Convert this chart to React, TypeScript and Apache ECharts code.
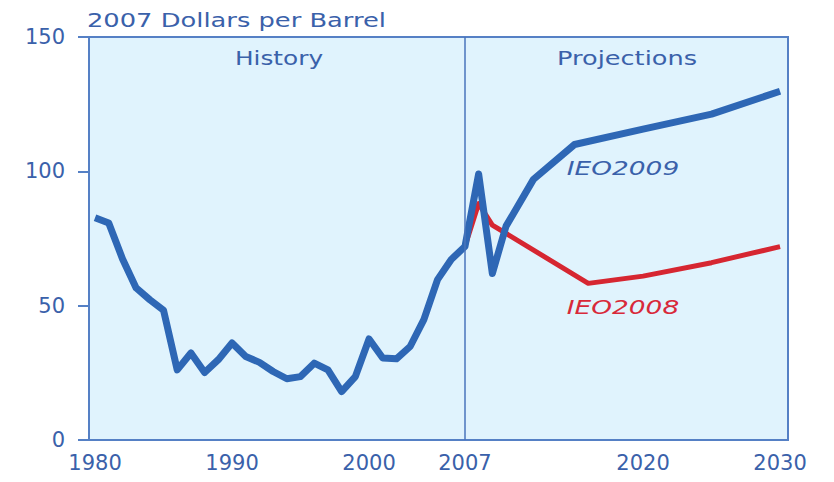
import React, { useEffect, useRef } from "react";
import * as echarts from "echarts";

const historyYears = [1980, 1981, 1982, 1983, 1984, 1985, 1986, 1987, 1988, 1989, 1990, 1991, 1992, 1993, 1994, 1995, 1996, 1997, 1998, 1999, 2000, 2001, 2002, 2003, 2004, 2005, 2006, 2007];
const historyValues = [82.7, 80.8, 67.5, 56.6, 52.2, 48.3, 26.1, 32.4, 25.1, 29.9, 36.1, 31.1, 28.9, 25.5, 22.8, 23.6, 28.6, 26.1, 18.0, 23.6, 37.6, 30.5, 30.2, 34.8, 44.8, 59.7, 67.2, 72.0];

const ieo2009Years = [2007, 2008, 2009, 2010, 2012, 2015, 2020, 2025, 2030];
const ieo2009Values = [72.0, 99.0, 62.0, 79.6, 97.0, 110.0, 115.7, 121.3, 129.8];

const ieo2008Years = [2007, 2008, 2009, 2016, 2020, 2025, 2030];
const ieo2008Values = [72.0, 88.0, 80.0, 58.3, 61.0, 66.0, 72.0];

const xTickLabels = [1980, 1990, 2000, 2007, 2020, 2030];
const yTicks = [0, 50, 100, 150];

const BLUE_LINE = "#2e67b5";
const RED_LINE = "#d62631";
const TEXT_BLUE = "#3a61aa";
const FRAME = "#5580c5";
const FONT = "DejaVu Sans";

export default function App() {
  const ref = useRef<HTMLDivElement>(null);

  useEffect(() => {
    if (!ref.current) return;
    const chart = echarts.init(ref.current, null, { renderer: "svg" });

    const blueData = [
      ...historyYears.map((y, i) => [y, historyValues[i]]),
      ...ieo2009Years.slice(1).map((y, i) => [y, ieo2009Values[i + 1]]),
    ];
    const redData = ieo2008Years.map((y, i) => [y, ieo2008Values[i]]);

    const textStyleBase = {
      fontFamily: FONT,
      fontSize: 20,
      fill: TEXT_BLUE,
      textAlign: "center",
      textVerticalAlign: "middle",
    };

    chart.setOption({
      animation: false,
      grid: {
        left: 89,
        right: 46,
        top: 37,
        bottom: 42,
        show: true,
        backgroundColor: "#e0f3fd",
        borderColor: FRAME,
        borderWidth: 2,
      },
      xAxis: {
        type: "value",
        min: 1979.56,
        max: 2030.58,
        axisLine: { show: true, lineStyle: { color: FRAME, width: 2 } },
        axisTick: { show: false },
        splitLine: { show: false },
        axisLabel: {
          customValues: xTickLabels,
          formatter: (v: number) => String(v),
          color: TEXT_BLUE,
          fontFamily: FONT,
          fontSize: 21,
          margin: 12,
        },
      },
      yAxis: {
        type: "value",
        min: yTicks[0],
        max: yTicks[yTicks.length - 1],
        interval: 50,
        axisLine: { show: true, lineStyle: { color: FRAME, width: 2 } },
        axisTick: { show: true, length: 11, lineStyle: { color: FRAME, width: 2 } },
        splitLine: { show: false },
        axisLabel: {
          color: TEXT_BLUE,
          fontFamily: FONT,
          fontSize: 21,
          margin: 24,
        },
      },
      series: [
        {
          name: "IEO2008",
          type: "line",
          data: redData,
          showSymbol: false,
          symbol: "none",
          lineStyle: { color: RED_LINE, width: 5, join: "round" },
          z: 2,
        },
        {
          name: "IEO2009",
          type: "line",
          data: blueData,
          showSymbol: false,
          symbol: "none",
          lineStyle: { color: BLUE_LINE, width: 7, join: "round" },
          z: 3,
          markLine: {
            silent: true,
            symbol: ["none", "none"],
            label: { show: false },
            lineStyle: { color: "#4a74bb", width: 1.5, type: "solid" },
            data: [{ xAxis: 2007 }],
          },
        },
      ],
      graphic: [
        {
          type: "text",
          x: 87,
          y: 20,
          scaleX: 1.32,
          style: { ...textStyleBase, fontSize: 19.5, text: "2007 Dollars per Barrel", textAlign: "left" },
        },
        {
          type: "text",
          x: 279,
          y: 58,
          scaleX: 1.24,
          style: { ...textStyleBase, text: "History" },
        },
        {
          type: "text",
          x: 627,
          y: 58,
          scaleX: 1.28,
          style: { ...textStyleBase, text: "Projections" },
        },
        {
          type: "text",
          x: 623,
          y: 168,
          scaleX: 1.32,
          style: { ...textStyleBase, text: "IEO2009", fontStyle: "italic" },
        },
        {
          type: "text",
          x: 623,
          y: 307,
          scaleX: 1.32,
          style: { ...textStyleBase, text: "IEO2008", fontStyle: "italic", fill: "#d8293a" },
        },
      ],
    });

    return () => chart.dispose();
  }, []);

  return (
    <div
      ref={ref}
      style={{ position: "fixed", left: 0, top: 0, width: 834, height: 482, background: "#ffffff" }}
    />
  );
}
